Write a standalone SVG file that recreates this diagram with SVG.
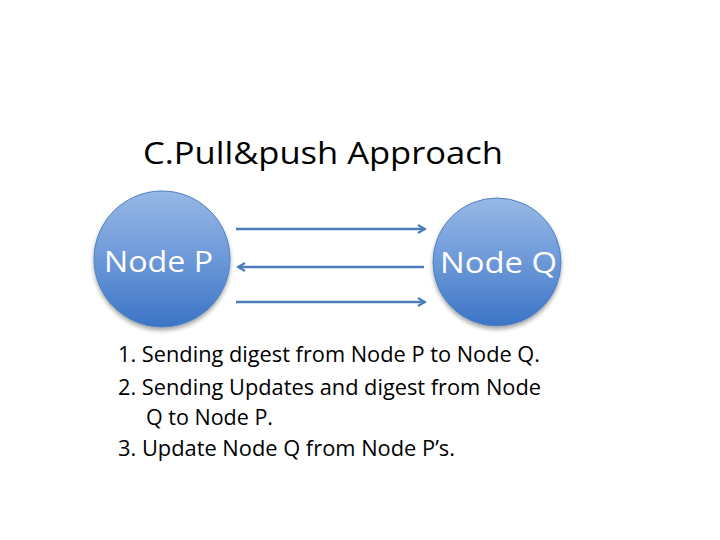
<svg xmlns="http://www.w3.org/2000/svg" width="720" height="540" viewBox="0 0 720 540">
<defs>
<style>
.t{font-family:"Open Sans","Liberation Sans",sans-serif;fill:#000}
.n{font-family:"Open Sans","Liberation Sans",sans-serif;fill:#fff;font-size:30px}
.c{stroke:#4f81bd;stroke-width:1;fill:url(#g);filter:url(#sh)}
.a{stroke:#4a7ebb;stroke-width:2.5;fill:none;marker-end:url(#ah)}
</style>
<linearGradient id="g" x1="0" y1="0" x2="0" y2="1">
<stop offset="0" stop-color="#97b8e6"/>
<stop offset="0.5" stop-color="#6c98d8"/>
<stop offset="1" stop-color="#3c74c6"/>
</linearGradient>
<filter id="sh" x="-20%" y="-20%" width="140%" height="150%">
<feGaussianBlur in="SourceAlpha" stdDeviation="2"/>
<feOffset dy="3"/>
<feComponentTransfer><feFuncA type="linear" slope="0.35"/></feComponentTransfer>
<feMerge><feMergeNode/><feMergeNode in="SourceGraphic"/></feMerge>
</filter>
<marker id="ah" markerWidth="10" markerHeight="10" refX="8" refY="5" orient="auto" markerUnits="userSpaceOnUse">
<path d="M1,1 L8,5 L1,9" fill="none" stroke="#4a7ebb" stroke-width="2.2"/>
</marker>
</defs>
<rect width="720" height="540" fill="#fff"/>
<text class="t" x="143" y="164" font-size="31" textLength="360" lengthAdjust="spacingAndGlyphs">C.Pull&amp;push Approach</text>
<g id="nodeP">
<circle class="c" cx="162" cy="259" r="68"/>
<text class="n" x="104" y="272" textLength="109" lengthAdjust="spacingAndGlyphs">Node P</text>
</g>
<g id="nodeQ">
<circle class="c" cx="497" cy="262" r="64"/>
<text class="n" x="440" y="273" textLength="117" lengthAdjust="spacingAndGlyphs">Node Q</text>
</g>
<g id="connectors">
<line class="a" x1="236" y1="229" x2="425" y2="229"/>
<line class="a" x1="424" y1="267" x2="238" y2="267"/>
<line class="a" x1="236" y1="302" x2="425" y2="302"/>
</g>
<g id="notes" font-size="22">
<text class="t" x="118" y="362" textLength="422" lengthAdjust="spacingAndGlyphs">1. Sending digest from Node P to Node Q.</text>
<text class="t" x="118" y="395" textLength="423" lengthAdjust="spacingAndGlyphs">2. Sending Updates and digest from Node</text>
<text class="t" x="146" y="425" textLength="127" lengthAdjust="spacingAndGlyphs">Q to Node P.</text>
<text class="t" x="118" y="456" textLength="337" lengthAdjust="spacingAndGlyphs">3. Update Node Q from Node P’s.</text>
</g>
</svg>
